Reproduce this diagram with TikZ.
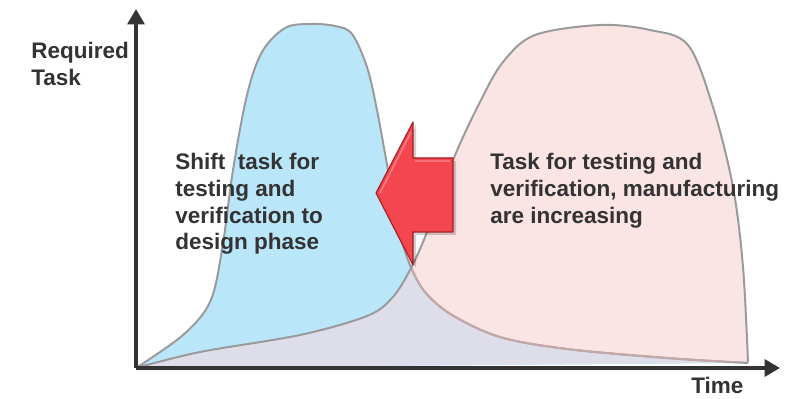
\documentclass[tikz,border=0pt]{standalone}
\usepackage{fontspec}
\setmainfont{Liberation Sans}
\usetikzlibrary{arrows.meta,positioning}
\definecolor{txt}{HTML}{333333}
\definecolor{curvegray}{HTML}{9A9A9A}
\definecolor{tailrose}{HTML}{C4A8A8}
\definecolor{designblue}{HTML}{BAE6FA}
\definecolor{testpink}{HTML}{FAE4E4}
\definecolor{overlap}{HTML}{DEDDEA}
\definecolor{arrowred}{HTML}{F4464F}
\definecolor{arrowdark}{HTML}{A81C24}

% design phase curve and testing/manufacturing curve (pixel units)
\def\designcurve{plot[smooth,tension=.55] coordinates {(136,368) (183,335) (210,302) (222,250) (233,170) (247,95) (262,52) (285,28) (310,24) (335,26) (352,34) (367,67) (377,110) (388,170) (400,233) (410,265) (425,292) (452,315) (500,337) (567,349) (667,358) (748,363)}}
\def\testcurve{plot[smooth,tension=.55] coordinates {(136,368) (200,352) (300,335) (367,316) (392,298) (410,270) (427,232) (453,160) (480,102) (503,62) (535,35) (600,25) (650,30) (688,45) (713,107) (733,187) (743,267) (748,362)}}

\begin{document}
\begin{tikzpicture}
[x=0.025cm,y=-0.025cm,
    axis/.style={draw=txt,line width=2.7pt,-{Triangle[length=11pt,width=12pt]}},
    curve/.style={draw=curvegray,line width=1.4pt},
    lab/.style={font=\bfseries\fontsize{16}{19}\selectfont,text=txt,align=left,inner sep=0pt,anchor=north west},
    bigarrow/.style={fill=arrowred,draw=arrowdark,line width=.8pt,line join=round}]
\useasboundingbox (0,0) rectangle (808,399);
%% fills
\fill[designblue] \designcurve -- cycle;
\fill[testpink] \testcurve -- cycle;
\begin{scope}
\clip \designcurve -- cycle;
\fill[overlap] \testcurve -- cycle;
\end{scope}
%% outlines
\draw[curve] \designcurve;
\begin{scope}
\clip \testcurve -- cycle;
\draw[curve,draw=tailrose] \designcurve;
\end{scope}
\draw[curve] \testcurve;
%% axes
\coordinate (o) at (136,368);
\coordinate (ytop) at (136,9);
\coordinate (xend) at (780,368);
\draw[axis] (o) -- (ytop);
\draw[axis] (o) -- (xend);
%% shift arrow
\fill[black,opacity=.18] (379,196) -- (416,125) -- (416,161) -- (456,161)
  -- (456,235) -- (416,235) -- (416,268) -- cycle;
\draw[bigarrow] (376,193) -- (413,122) -- (413,158) -- (453,158)
  -- (453,232) -- (413,232) -- (413,265) -- cycle;
\draw[white,opacity=.35,line width=1pt,line join=round] (380,193) -- (411,132) (415,161) -- (450,161);
%% labels
\node (req) [lab] at (31,42) {Required\\Task};
\node (time) [lab] at (691,377) {Time};
\node (shift) [lab] at (175,153) {Shift\ \ task for\\testing and\\verification to\\design phase};
\node (incr) [lab] at (490,153) {Task for testing and\\verification, manufacturing\\are increasing};
\end{tikzpicture}
\end{document}
